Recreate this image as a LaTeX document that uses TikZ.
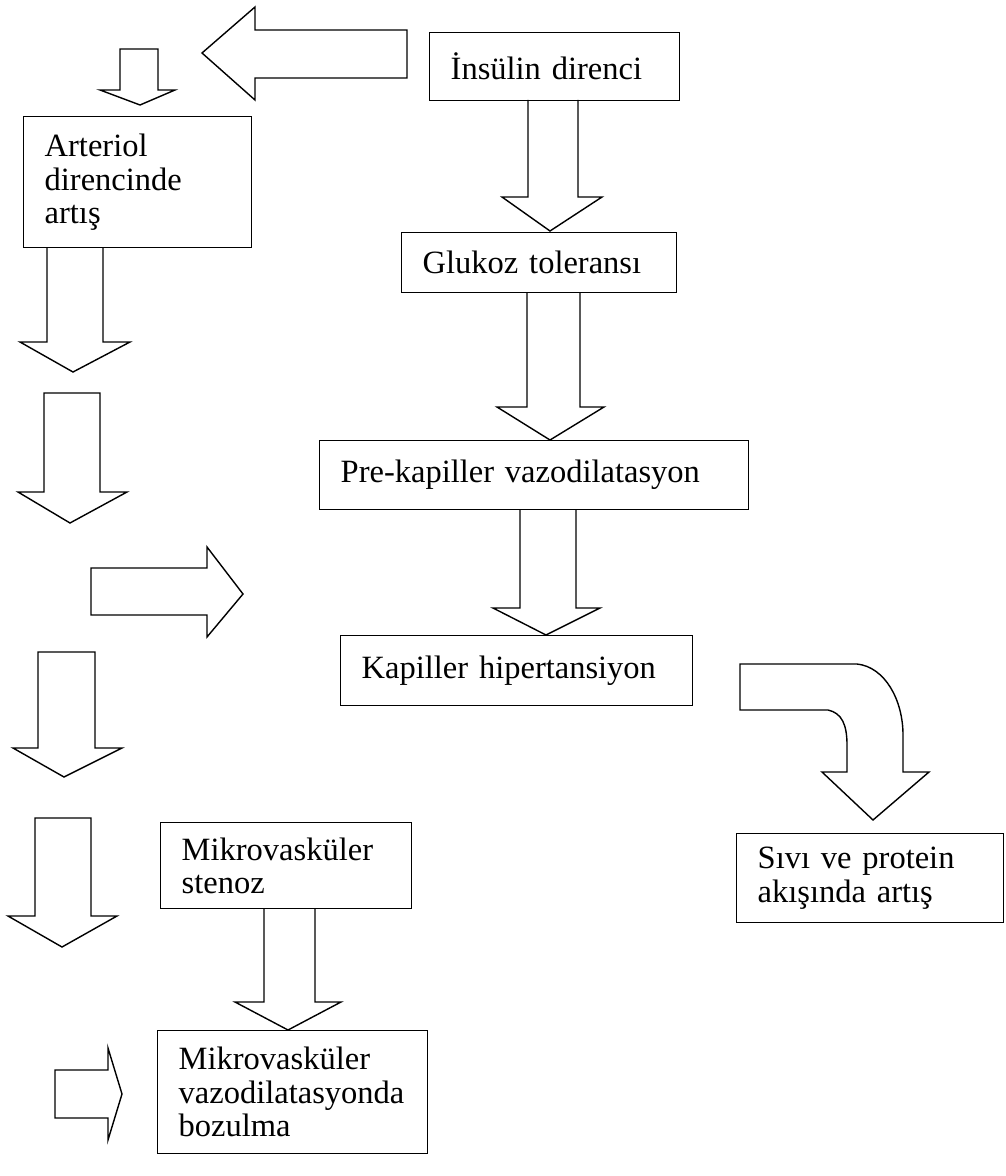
\documentclass[tikz,border=0pt]{standalone}
\usepackage{fontspec}
\setmainfont{Liberation Serif}
\usepackage{tikz}
\tikzset{box/.style 2 args = {draw, line width=0.8pt, anchor=north west,
                              inner xsep=0.42cm, inner ysep=0pt,
                              text width=#1, minimum height=#2, align=left,
                              font=\fontsize{18.5}{19}\selectfont}}
\tikzset{blk/.style = {draw, line width=0.8pt, line join=miter}}

\begin{document}
\begin{tikzpicture}[x=0.02cm, y=-0.02cm]
      \useasboundingbox (0, 0) rectangle (1006, 1176);

      \node [box={4.16cm}{1.36cm}] (insulin) at (429, 32) {İnsülin direnci};
      \node [box={4.66cm}{1.2cm}] (glukoz) at (401, 232) {Glukoz toleransı};
      \node [box={7.74cm}{1.38cm}] (prekap) at (319, 440) {Pre-kapiller vazodilatasyon};
      \node [box={6.2cm}{1.4cm}] (kaphip) at (340, 635) {Kapiller hipertansiyon};
      \node [box={3.72cm}{2.62cm}] (arteriol) at (23, 116) {Arteriol\\direncinde\\artış};
      \node [box={4.5cm}{1.78cm}] (sivi) at (736, 833) {Sıvı ve protein\\akışında artış};
      \node [box={4.18cm}{1.72cm}] (stenoz) at (160, 822) {Mikrovasküler\\stenoz};
      \node [box={4.56cm}{2.46cm}] (bozulma) at (157, 1030) {Mikrovasküler\\vazodilatasyonda\\bozulma};

      % left pointing arrow from insulin
      \draw [blk] (407, 30) -- (255, 30) -- (255, 7) -- (202, 53) -- (255, 100) -- (255, 78) -- (407, 78) -- cycle;
      % small arrow onto arteriol
      \draw [blk] (120, 49) -- (120, 90) -- (100, 90) -- (140, 105) -- (175, 90) -- (158, 90) -- (158, 49) -- cycle;

      % middle column
      \draw [blk] (528, 100) -- (528, 197) -- (502, 197) -- (550, 231) -- (602, 197) -- (578, 197) -- (578, 100);
      \draw [blk] (527, 292) -- (527, 407) -- (497, 407) -- (550, 440) -- (604, 407) -- (580, 407) -- (580, 292);
      \draw [blk] (520, 509) -- (520, 608) -- (493, 608) -- (546, 635) -- (600, 608) -- (576, 608) -- (576, 509);

      % left column
      \draw [blk] (47, 247) -- (47, 342) -- (20, 342) -- (73, 372) -- (130, 342) -- (103, 342) -- (103, 247);
      \draw [blk] (44, 393) -- (44, 492) -- (18, 492) -- (70, 523) -- (127, 492) -- (100, 492) -- (100, 393) -- cycle;
      \draw [blk] (91, 568) -- (207, 568) -- (207, 547) -- (243, 594) -- (207, 637) -- (207, 615) -- (91, 615) -- cycle;
      \draw [blk] (38, 652) -- (38, 748) -- (13, 748) -- (64, 777) -- (122, 748) -- (95, 748) -- (95, 652) -- cycle;
      \draw [blk] (35, 818) -- (35, 916) -- (8, 916) -- (62, 947) -- (117, 916) -- (91, 916) -- (91, 818) -- cycle;
      \draw [blk] (55, 1070) -- (108, 1070) -- (108, 1048) -- (122, 1094) -- (108, 1140) -- (108, 1118) -- (55, 1118) -- cycle;

      % stenoz to bozulma
      \draw [blk] (264, 908) -- (264, 1002) -- (235, 1002) -- (288, 1030) -- (341, 1002) -- (315, 1002) -- (315, 908);

      % curved arrow to sivi
      \draw [blk] (740, 664) -- (857, 664) .. controls (885, 667) and (903, 700) .. (903, 735)
                  -- (903, 772) -- (929, 772) -- (873, 820) -- (822, 772) -- (847, 772) -- (847, 745)
                  .. controls (847, 725) and (842, 713) .. (828, 710) -- (740, 710) -- cycle;
    \end{tikzpicture}
\end{document}
